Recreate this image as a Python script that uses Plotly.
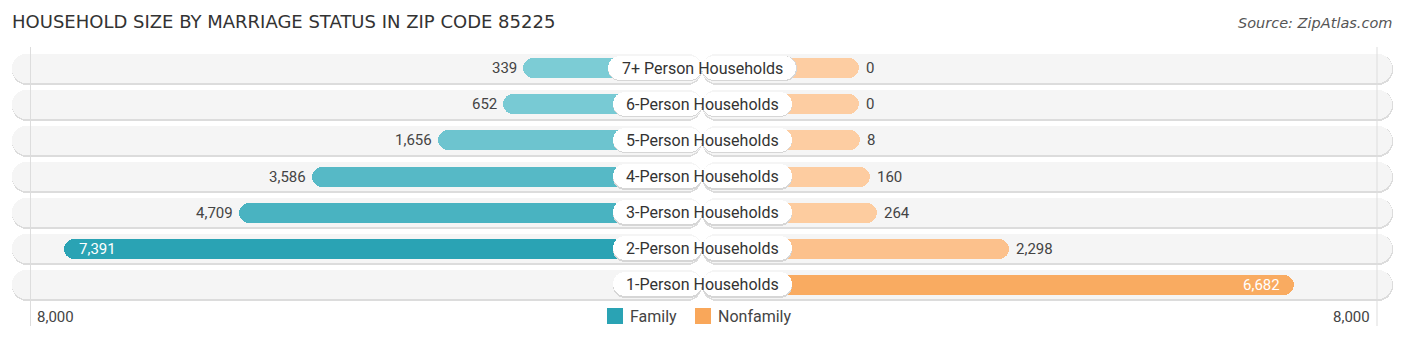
import plotly.graph_objects as go

# ---- data ----
categories = ["7+ Person Households", "6-Person Households", "5-Person Households",
              "4-Person Households", "3-Person Households", "2-Person Households",
              "1-Person Households"]
family = [339, 652, 1656, 3586, 4709, 7391, 0]
nonfamily = [0, 0, 8, 160, 264, 2298, 6682]
tick_labels = ["8,000", "8,000"]
legend_names = ["Family", "Nonfamily"]
title_text = "HOUSEHOLD SIZE BY MARRIAGE STATUS IN ZIP CODE 85225"
source_text = "Source: ZipAtlas.com"

# ---- layout constants ----
W, H = 1406, 340
S = 0.0651              # px per unit
CX = 702.35             # center pixel
OFF = 157.0 / S         # gap from center to bar base (label area)
XR = [-CX / S, (W - CX) / S]
T, B = 50, 37
ROW = (H - T - B) / 7.0
FONT = "Roboto"


def py(y_px):
    return (H - B - y_px) / (H - T - B)


def mix(c1, c2, t):
    a = [int(c1[i:i + 2], 16) for i in (1, 3, 5)]
    b = [int(c2[i:i + 2], 16) for i in (1, 3, 5)]
    return "#" + "".join(f"{round(a[k] + (b[k] - a[k]) * t):02x}" for k in range(3))


vmax = max(max(family), max(nonfamily))
fam_colors = [mix("#80ced7", "#2aa3b4", v / vmax) for v in family]
non_colors = [mix("#fdcda2", "#f9a75a", v / vmax) for v in nonfamily]

ys = list(range(len(categories)))
fig = go.Figure()

# background pills (shadow + fill), two halves each
pill_half = 690.3 / S
for sign in (-1, 1):
    fig.add_trace(go.Bar(y=ys, x=[sign * pill_half] * 7, base=0, orientation="h",
                         width=31 / ROW, offset=-14.5 / ROW,
                         marker=dict(color="#dcdcdc", cornerradius=15, line=dict(width=0)),
                         hoverinfo="skip", showlegend=False))
    fig.add_trace(go.Bar(y=ys, x=[sign * (pill_half - 0.4 / S)] * 7, base=0, orientation="h",
                         width=29 / ROW, offset=-14.5 / ROW,
                         marker=dict(color="#f5f5f5", cornerradius=14, line=dict(width=0)),
                         hoverinfo="skip", showlegend=False))

# data bars
bar_w = 20 / ROW
fig.add_trace(go.Bar(y=ys, x=[-(OFF + v) if v > 0 else None for v in family], base=0, orientation="h",
                     width=bar_w, marker=dict(color=fam_colors, cornerradius=10, line=dict(width=0)),
                     name=legend_names[0], showlegend=False, hoverinfo="skip"))
fig.add_trace(go.Bar(y=ys, x=[(OFF + v) for v in nonfamily], base=0, orientation="h",
                     width=bar_w, marker=dict(color=non_colors, cornerradius=10, line=dict(width=0)),
                     name=legend_names[1], showlegend=False, hoverinfo="skip"))

# label pills
half_px = [4.7 * len(c) for c in categories]
for sign in (-1, 1):
    fig.add_trace(go.Bar(y=ys, x=[sign * (h + 0.5) / S for h in half_px], base=0, orientation="h",
                         width=25 / ROW, offset=-12 / ROW,
                         marker=dict(color="#d6d6d6", cornerradius=12, line=dict(width=0)),
                         hoverinfo="skip", showlegend=False))
    fig.add_trace(go.Bar(y=ys, x=[sign * h / S for h in half_px], base=0, orientation="h",
                         width=24 / ROW, offset=-12.5 / ROW,
                         marker=dict(color="#ffffff", cornerradius=12, line=dict(width=0)),
                         hoverinfo="skip", showlegend=False))

ann = []
for i, c in enumerate(categories):
    ann.append(dict(x=0, y=i, xref="x", yref="y", text=c, showarrow=False,
                    font=dict(family=FONT, size=16, color="#333333"), xanchor="center", yanchor="middle"))
    fv = family[i]
    lbl = f"{fv:,}"
    if fv > 0:
        if fv > 6000:
            ann.append(dict(x=-(OFF + fv), y=i, text=lbl, showarrow=False, xanchor="left", xshift=13,
                            font=dict(family=FONT, size=15, color="#ffffff"), yanchor="middle"))
        else:
            ann.append(dict(x=-(OFF + fv), y=i, text=lbl, showarrow=False, xanchor="right", xshift=-4,
                            font=dict(family=FONT, size=15, color="#444444"), yanchor="middle"))
    nv = nonfamily[i]
    lbl = f"{nv:,}"
    if nv > 6000:
        ann.append(dict(x=OFF + nv, y=i, text=lbl, showarrow=False, xanchor="right", xshift=-12,
                        font=dict(family=FONT, size=15, color="#ffffff"), yanchor="middle"))
    else:
        ann.append(dict(x=OFF + nv, y=i, text=lbl, showarrow=False, xanchor="left", xshift=5,
                        font=dict(family=FONT, size=15, color="#444444"), yanchor="middle"))

# axis tick labels
gl, gr = 30.5 / W, 1377 / W
ann.append(dict(x=gl, y=py(317), xref="paper", yref="paper", text=tick_labels[0], showarrow=False,
                xanchor="left", xshift=4, yanchor="middle", font=dict(family=FONT, size=15, color="#444444")))
ann.append(dict(x=gr, y=py(317), xref="paper", yref="paper", text=tick_labels[1], showarrow=False,
                xanchor="right", xshift=-5, yanchor="middle", font=dict(family=FONT, size=15, color="#444444")))

# title & source
ann.append(dict(x=12 / W, y=py(21), xref="paper", yref="paper", text=title_text, showarrow=False,
                xanchor="left", yanchor="middle", xshift=-2,
                font=dict(family="DejaVu Sans", size=18, color="#333333")))
ann.append(dict(x=1394 / W, y=py(23), xref="paper", yref="paper", text=source_text, showarrow=False,
                xanchor="right", yanchor="middle",
                font=dict(family="DejaVu Sans", size=14.5, color="#555555", style="italic")))

# legend
ann.append(dict(x=628 / W, y=py(316), xref="paper", yref="paper", text=legend_names[0], showarrow=False,
                xanchor="left", yanchor="middle", font=dict(family=FONT, size=16, color="#444444")))
ann.append(dict(x=716 / W, y=py(316), xref="paper", yref="paper", text=legend_names[1], showarrow=False,
                xanchor="left", yanchor="middle", font=dict(family=FONT, size=16, color="#444444")))

shapes = []
for xp in (gl, gr):
    shapes.append(dict(type="line", xref="paper", yref="paper", x0=xp, x1=xp,
                       y0=py(47), y1=py(326), line=dict(color="#dddddd", width=1), layer="above"))
shapes.append(dict(type="rect", xref="paper", yref="paper", x0=607 / W, x1=623 / W,
                   y0=py(324), y1=py(308), fillcolor="#2aa3b4", line=dict(width=0)))
shapes.append(dict(type="rect", xref="paper", yref="paper", x0=695 / W, x1=711 / W,
                   y0=py(324), y1=py(308), fillcolor="#f9a75a", line=dict(width=0)))

fig.update_layout(
    width=W, height=H, barmode="overlay", bargap=0,
    margin=dict(l=0, r=0, t=T, b=B),
    plot_bgcolor="white", paper_bgcolor="white",
    xaxis=dict(range=XR, visible=False, fixedrange=True),
    yaxis=dict(range=[6.5, -0.5], visible=False, fixedrange=True),
    annotations=ann, shapes=shapes, showlegend=False,
)
fig.write_html("out.html")
